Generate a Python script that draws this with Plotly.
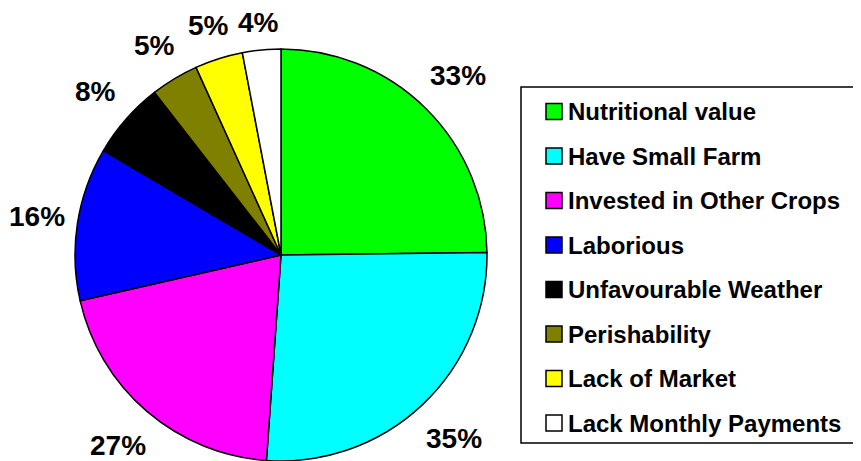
import numpy as np
import plotly.graph_objects as go

W, H = 861, 461
OFF = 8  # page body margin, the figure is drawn 8px in from the corner

# ── data ──────────────────────────────────────────────────────────────────────
labels = ["Nutritional value", "Have Small Farm", "Invested in Other Crops",
          "Laborious", "Unfavourable Weather", "Perishability",
          "Lack of Market", "Lack Monthly Payments"]
values = [33, 35, 27, 16, 8, 5, 5, 4]
colors = ["#00FF00", "#00FFFF", "#FF00FF", "#0000FF",
          "#000000", "#808000", "#FFFF00", "#FFFFFF"]

FONT = "Liberation Sans, Arial, sans-serif"
LBL_SIZE = 28


def px2x(px):
    return (px - OFF) / W


def py2y(py):
    return 1 - (py - OFF) / H


# pie geometry in window pixels
cx, cy, R = 281, 255, 206

fig = go.Figure()
fig.add_trace(go.Pie(
    labels=labels, values=values,
    marker=dict(colors=colors, line=dict(color="black", width=1.5)),
    sort=False, direction="clockwise", rotation=0,
    textinfo="none", showlegend=False,
    domain=dict(x=[px2x(cx - R), px2x(cx + R)], y=[py2y(cy + R), py2y(cy - R)]),
    hovertemplate="%{label}: %{value}%<extra></extra>"
))

# ── percent labels outside the slices (label box kept a fixed gap off the rim)
total = sum(values)
cum = np.cumsum([0] + values)
gap = 19
annotations = []
for i, v in enumerate(values):
    txt = f"{v}%"
    mid = (cum[i] + v / 2) / total * 2 * np.pi
    hw = 0.5 * LBL_SIZE * (0.556 * (len(txt) - 1) + 0.889)
    hh = 10.5
    d = R + gap + hw * abs(np.sin(mid)) + hh * abs(np.cos(mid))
    px = cx + d * np.sin(mid)
    py = cy - d * np.cos(mid)
    # keep labels inside the canvas
    px = max(px, OFF + hw + 1)
    py = max(py, OFF + 14)
    annotations.append(dict(
        x=px2x(px), y=py2y(py), xref="paper", yref="paper",
        text=txt, showarrow=False, xanchor="center", yanchor="middle",
        font=dict(family=FONT, size=LBL_SIZE, color="black", weight="bold")
    ))

# ── legend box (drawn by hand to get the wide row spacing) ────────────────────
shapes = [dict(type="rect", xref="paper", yref="paper",
               x0=px2x(521), x1=px2x(858), y0=py2y(443), y1=py2y(87),
               line=dict(color="black", width=1.5), fillcolor="white")]
row0, step = 111.5, 44.5
for i, (lab, col) in enumerate(zip(labels, colors)):
    yc = row0 + i * step
    shapes.append(dict(type="rect", xref="paper", yref="paper",
                       x0=px2x(546), x1=px2x(562), y0=py2y(yc + 8), y1=py2y(yc - 8),
                       line=dict(color="black", width=1.5), fillcolor=col))
    annotations.append(dict(
        x=px2x(566), y=py2y(yc), xref="paper", yref="paper",
        text=lab, showarrow=False, xanchor="left", yanchor="middle",
        font=dict(family=FONT, size=24, color="black", weight="bold")
    ))

fig.update_layout(
    width=W, height=H,
    margin=dict(l=0, r=0, t=0, b=0),
    paper_bgcolor="white", plot_bgcolor="white",
    shapes=shapes, annotations=annotations,
    showlegend=False
)

fig.write_html("out.html")
